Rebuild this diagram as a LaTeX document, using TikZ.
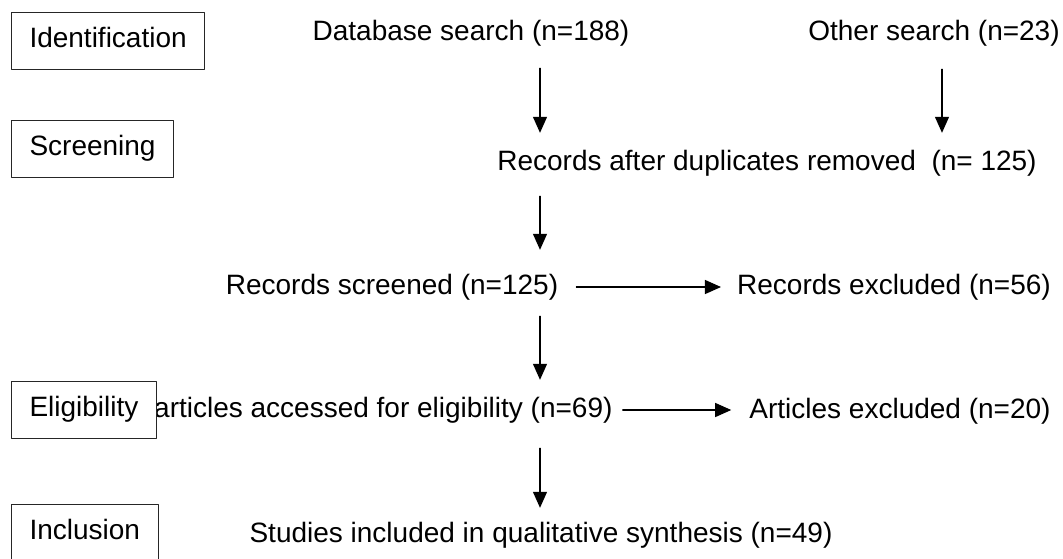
\documentclass[tikz,border=0pt]{standalone}
\usepackage{fontspec}
\setmainfont{Liberation Sans}
\usetikzlibrary{arrows.meta}

\begin{document}
\begin{tikzpicture}[x=1pt,y=-1pt,line cap=round,line join=round,>={Triangle[length=16pt,width=14pt]},
  every node/.style={font=\fontsize{28}{32}\selectfont},
  flowtext/.style={inner sep=0pt,text height=20pt,text depth=6pt},
  stagebox/.style={draw=black!85,line width=1pt,fill=white,anchor=west,inner xsep=18pt,inner ysep=0pt,minimum height=57pt,text height=20pt,text depth=6pt},
  flow/.style={->,line width=1.2pt}]
\useasboundingbox (0,0) rectangle (1063,558);
\clip (0,0) rectangle (1063,558);
\coordinate (spine) at (540,0);
\coordinate (side) at (942,0);
% flow texts
\node[flowtext] (db) at (471,33) {Database search (n=188)};
\node[flowtext] (other) at (934,33) {Other search (n=23)};
\node[flowtext] (dup) at (767,163) {Records after duplicates removed\ \ (n= 125)};
\node[flowtext] (scr) at (392,287) {Records screened (n=125)};
\node[flowtext] (rex) at (894,287) {Records excluded (n=56)};
\node[flowtext,anchor=west] (art) at (154,410) {articles accessed for eligibility (n=69)};
\node[flowtext] (aex) at (900,411) {Articles excluded (n=20)};
\node[flowtext] (inc) at (541,535) {Studies included in qualitative synthesis (n=49)};
% stage boxes
\node[stagebox] (ident) at (11,40.5) {Identification};
\node[stagebox] (screen) at (11,148.5) {Screening};
\node[stagebox] (elig) at (11,409.5) {Eligibility};
\node[stagebox] (incl) at (11,532.5) {Inclusion};
% arrows
\draw[flow,shorten <=22pt,shorten >=17pt] (db.south -| spine) -- (dup.north -| spine);
\draw[flow,shorten <=23pt,shorten >=17pt] (other.south -| side) -- (dup.north -| side);
\draw[flow,shorten <=20pt,shorten >=24pt] (dup.south -| spine) -- (scr.north -| spine);
\draw[flow,shorten <=18pt,shorten >=16pt] (scr.east) -- (rex.west |- scr.east);
\draw[flow,shorten <=16pt,shorten >=17pt] (scr.south -| spine) -- (art.north -| spine);
\draw[flow,shorten <=10pt,shorten >=18pt] (art.east) -- (aex.west |- art.east);
\draw[flow,shorten <=25pt,shorten >=14pt] (art.south -| spine) -- (inc.north -| spine);
\end{tikzpicture}
\end{document}
